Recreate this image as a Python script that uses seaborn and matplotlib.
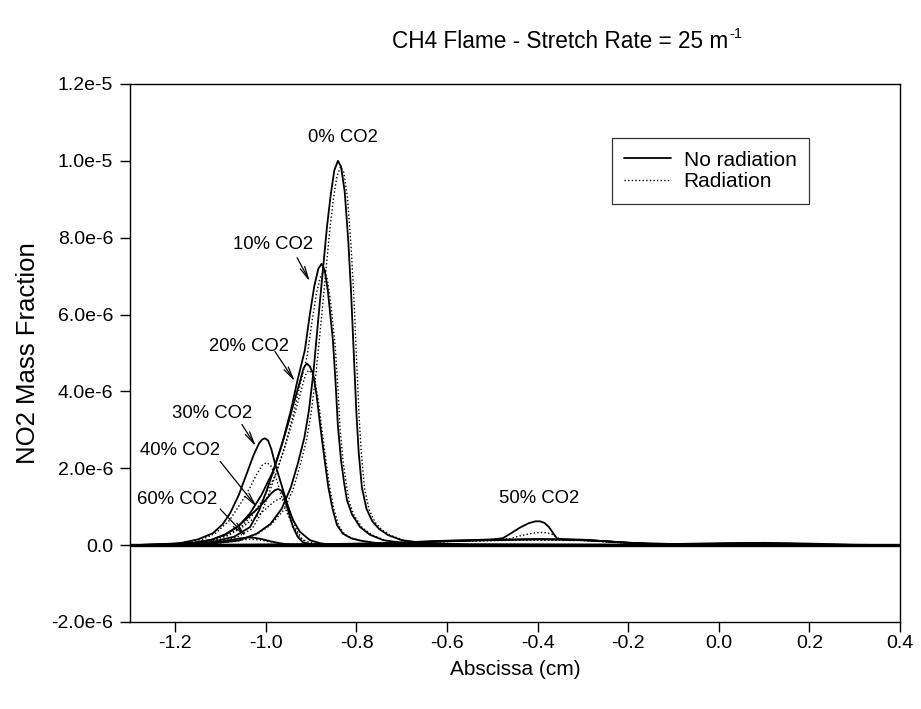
import numpy as np
import pandas as pd
import matplotlib
matplotlib.use("Agg")
import matplotlib.pyplot as plt
from matplotlib.lines import Line2D
import seaborn as sns

# ---------------- data (y in units of 1e-6) ----------------
x0 = [-1.30,-1.20,-1.12,-1.06,-1.02,-0.99,-0.965,-0.945,-0.93,-0.915,-0.905,-0.895,-0.885,-0.873,-0.865,-0.857,-0.849,-0.841,-0.834,-0.826,-0.818,-0.812,-0.806,-0.800,-0.795,-0.788,-0.778,-0.765,-0.750,-0.730,-0.700,-0.650,-0.55,0.40]
y0 = [0,0.01,0.04,0.12,0.30,0.55,0.95,1.5,2.1,2.8,3.5,4.5,5.8,7.3,8.3,9.1,9.75,10.0,9.85,9.2,7.9,6.6,5.0,3.4,2.4,1.5,0.95,0.62,0.42,0.26,0.13,0.05,0.02,0]
x0r = [-1.30,-1.20,-1.12,-1.06,-1.02,-0.99,-0.96,-0.94,-0.925,-0.91,-0.90,-0.89,-0.879,-0.867,-0.859,-0.851,-0.843,-0.835,-0.828,-0.820,-0.812,-0.806,-0.800,-0.794,-0.789,-0.782,-0.772,-0.759,-0.744,-0.724,-0.694,-0.644,-0.55,0.40]
y0r = [0,0.01,0.04,0.11,0.28,0.52,0.92,1.45,2.05,2.75,3.45,4.4,5.7,7.2,8.2,9.0,9.6,9.85,9.7,9.05,7.8,6.5,4.9,3.3,2.35,1.45,0.92,0.6,0.4,0.25,0.12,0.05,0.02,0]

x10 = [-1.30,-1.20,-1.12,-1.07,-1.035,-1.015,-0.998,-0.98,-0.962,-0.945,-0.93,-0.914,-0.903,-0.893,-0.884,-0.877,-0.870,-0.863,-0.857,-0.852,-0.846,-0.841,-0.834,-0.827,-0.821,-0.81,-0.792,-0.77,-0.741,-0.70,-0.64,-0.55,0.40]
y10 = [0,0.02,0.08,0.22,0.47,0.9,1.43,2.05,2.73,3.5,4.3,5.07,6.0,6.75,7.2,7.32,7.15,6.6,5.9,5.33,4.2,3.1,2.2,1.6,1.17,0.8,0.47,0.27,0.13,0.06,0.03,0.01,0]
x10r = [-1.30,-1.20,-1.12,-1.065,-1.03,-1.01,-0.993,-0.975,-0.957,-0.94,-0.925,-0.909,-0.898,-0.888,-0.879,-0.872,-0.865,-0.858,-0.852,-0.847,-0.841,-0.836,-0.829,-0.822,-0.816,-0.805,-0.787,-0.765,-0.736,-0.695,-0.635,-0.55,0.40]
y10r = [0,0.02,0.07,0.2,0.43,0.84,1.35,1.95,2.62,3.38,4.15,4.92,5.83,6.57,7.0,7.12,6.96,6.42,5.75,5.18,4.08,3.0,2.12,1.55,1.12,0.77,0.45,0.26,0.12,0.06,0.03,0.01,0]

x20 = [-1.30,-1.22,-1.16,-1.12,-1.09,-1.06,-1.035,-1.01,-0.985,-0.965,-0.95,-0.937,-0.925,-0.917,-0.910,-0.903,-0.896,-0.888,-0.881,-0.876,-0.869,-0.862,-0.853,-0.843,-0.83,-0.812,-0.792,-0.76,-0.72,-0.65,0.40]
y20 = [0,0.02,0.06,0.14,0.28,0.5,0.83,1.3,1.9,2.6,3.2,3.75,4.25,4.6,4.73,4.65,4.47,3.9,3.2,2.73,2.1,1.5,0.95,0.52,0.3,0.18,0.12,0.06,0.03,0.01,0]
x20r = [-1.30,-1.22,-1.16,-1.115,-1.085,-1.055,-1.03,-1.005,-0.98,-0.96,-0.945,-0.932,-0.921,-0.913,-0.906,-0.899,-0.892,-0.884,-0.877,-0.872,-0.865,-0.858,-0.849,-0.839,-0.826,-0.808,-0.788,-0.756,-0.716,-0.645,0.40]
y20r = [0,0.02,0.05,0.13,0.26,0.47,0.78,1.22,1.8,2.48,3.07,3.6,4.08,4.42,4.55,4.48,4.3,3.75,3.08,2.62,2.0,1.43,0.9,0.5,0.28,0.17,0.11,0.06,0.03,0.01,0]

x30 = [-1.30,-1.24,-1.19,-1.15,-1.117,-1.095,-1.079,-1.06,-1.042,-1.027,-1.015,-1.008,-1.002,-0.995,-0.988,-0.980,-0.971,-0.962,-0.951,-0.94,-0.925,-0.903,-0.88,-0.86,-0.80,0.40]
y30 = [0,0.02,0.05,0.15,0.31,0.55,0.83,1.3,1.87,2.35,2.65,2.75,2.78,2.72,2.5,2.13,1.78,1.43,1.0,0.65,0.35,0.13,0.05,0.02,0.01,0]
x30r = [-1.30,-1.24,-1.19,-1.14,-1.11,-1.08,-1.055,-1.035,-1.02,-1.008,-0.998,-0.988,-0.976,-0.965,-0.953,-0.94,-0.925,-0.91,-0.88,-0.85,-0.80,0.40]
y30r = [0,0.02,0.05,0.15,0.32,0.65,1.1,1.5,1.85,2.08,2.15,2.05,1.69,1.25,0.83,0.5,0.2,0.09,0.03,0.01,0.005,0]

x40 = [-1.30,-1.22,-1.16,-1.12,-1.09,-1.06,-1.04,-1.017,-1.0,-0.988,-0.98,-0.973,-0.966,-0.96,-0.953,-0.946,-0.94,-0.93,-0.918,-0.90,-0.87,-0.80,-0.70,-0.60,-0.50,-0.40,-0.30,-0.22,-0.15,-0.05,0.05,0.15,0.25,0.40]
y40 = [0,0.02,0.06,0.14,0.27,0.5,0.72,0.96,1.18,1.35,1.43,1.46,1.42,1.28,0.99,0.7,0.47,0.22,0.07,0.02,0.01,0.02,0.06,0.10,0.13,0.15,0.14,0.08,0.03,0.02,0.05,0.04,0.01,0]
x40r = [-1.30,-1.22,-1.16,-1.12,-1.085,-1.055,-1.035,-1.012,-0.995,-0.982,-0.972,-0.965,-0.958,-0.952,-0.945,-0.938,-0.932,-0.922,-0.91,-0.89,-0.86,-0.80,-0.70,-0.60,-0.50,-0.40,-0.30,-0.22,-0.15,-0.05,0.05,0.15,0.25,0.40]
y40r = [0,0.02,0.05,0.12,0.24,0.44,0.62,0.82,1.0,1.13,1.2,1.22,1.18,1.05,0.82,0.58,0.39,0.18,0.06,0.02,0.01,0.02,0.05,0.09,0.12,0.13,0.12,0.07,0.03,0.02,0.04,0.03,0.01,0]

x50 = [-1.30,-1.10,-0.95,-0.85,-0.75,-0.68,-0.62,-0.55,-0.50,-0.477,-0.46,-0.44,-0.42,-0.405,-0.395,-0.385,-0.375,-0.365,-0.357,-0.34,-0.30,-0.25,-0.20,-0.15,-0.10,0.0,0.1,0.2,0.3,0.40]
y50 = [0,0.01,0.02,0.03,0.05,0.08,0.11,0.13,0.15,0.18,0.3,0.45,0.57,0.62,0.62,0.58,0.47,0.3,0.17,0.15,0.13,0.1,0.06,0.03,0.02,0.02,0.01,0.005,0.0,0]
x50r = [-1.30,-1.10,-0.95,-0.85,-0.75,-0.68,-0.62,-0.55,-0.50,-0.46,-0.44,-0.42,-0.405,-0.39,-0.378,-0.368,-0.36,-0.352,-0.34,-0.30,-0.25,-0.20,-0.15,-0.10,0.0,0.1,0.2,0.3,0.40]
y50r = [0,0.01,0.02,0.03,0.05,0.08,0.1,0.12,0.14,0.17,0.24,0.29,0.32,0.33,0.32,0.28,0.22,0.16,0.14,0.12,0.1,0.06,0.03,0.02,0.02,0.01,0.005,0.0,0]

x60 = [-1.30,-1.20,-1.14,-1.10,-1.075,-1.055,-1.04,-1.025,-1.01,-0.99,-0.97,-0.95,-0.90,-0.80,-0.70,-0.60,-0.50,-0.40,-0.30,-0.20,-0.10,0.0,0.10,0.20,0.30,0.40]
y60 = [0,0.01,0.04,0.09,0.14,0.18,0.2,0.19,0.16,0.1,0.05,0.02,0.01,0.02,0.06,0.11,0.14,0.16,0.14,0.06,0.03,0.05,0.06,0.04,0.01,0]
x60r = [-1.30,-1.20,-1.14,-1.10,-1.07,-1.05,-1.035,-1.02,-1.005,-0.985,-0.965,-0.945,-0.90,-0.80,-0.70,-0.60,-0.50,-0.40,-0.30,-0.20,-0.10,0.0,0.10,0.20,0.30,0.40]
y60r = [0,0.01,0.03,0.07,0.11,0.14,0.15,0.14,0.12,0.08,0.04,0.02,0.01,0.02,0.05,0.1,0.12,0.14,0.12,0.05,0.03,0.04,0.05,0.03,0.01,0]

curves = {
    ("0%", "No radiation"): (x0, y0), ("0%", "Radiation"): (x0r, y0r),
    ("10%", "No radiation"): (x10, y10), ("10%", "Radiation"): (x10r, y10r),
    ("20%", "No radiation"): (x20, y20), ("20%", "Radiation"): (x20r, y20r),
    ("30%", "No radiation"): (x30, y30), ("30%", "Radiation"): (x30r, y30r),
    ("40%", "No radiation"): (x40, y40), ("40%", "Radiation"): (x40r, y40r),
    ("50%", "No radiation"): (x50, y50), ("50%", "Radiation"): (x50r, y50r),
    ("60%", "No radiation"): (x60, y60), ("60%", "Radiation"): (x60r, y60r),
}

# annotation labels: (text, text position, arrow tail, arrow tip)
labels = ["0% CO2", "10% CO2", "20% CO2", "30% CO2", "40% CO2", "60% CO2", "50% CO2"]
label_xy = [(-0.830, 10.62), (-0.984, 7.82), (-1.037, 5.17), (-1.119, 3.43),
            (-1.190, 2.47), (-1.196, 1.19), (-0.397, 1.22)]
arrow_tail = [None, (-0.931, 7.48), (-0.980, 5.04), (-1.053, 3.14),
              (-1.101, 2.18), (-1.101, 0.94), None]
arrow_tip = [None, (-0.903, 6.86), (-0.936, 4.26), (-1.022, 2.57),
             (-1.020, 0.99), (-1.044, 0.23), None]

xticks = [-1.2, -1.0, -0.8, -0.6, -0.4, -0.2, 0.0, 0.2, 0.4]
yticks = [-2e-6, 0, 2e-6, 4e-6, 6e-6, 8e-6, 1e-5, 1.2e-5]
ytick_labels = ["-2.0e-6", "0.0", "2.0e-6", "4.0e-6", "6.0e-6", "8.0e-6", "1.0e-5", "1.2e-5"]

SCALE = 1e-6

rows = []
for (lvl, kind), (xs, ys) in curves.items():
    for xv, yv in zip(xs, ys):
        rows.append({"x": xv, "y": yv * SCALE, "curve": lvl + kind, "kind": kind})
df = pd.DataFrame(rows)

# ---------------- plot ----------------
sns.set_style("ticks")
plt.rcParams["font.family"] = ["Liberation Sans", "DejaVu Sans"]
plt.rcParams["text.color"] = "black"
plt.rcParams["axes.labelcolor"] = "black"

fig = plt.figure(figsize=(9.21, 7.09), dpi=100)
ax = fig.add_axes([130/921, 1-622/709, 770/921, 538/709])

ax.axhline(0, color="black", lw=2.4, zorder=1)
sns.lineplot(data=df[df.kind == "No radiation"], x="x", y="y", units="curve",
             estimator=None, sort=False, color="black", lw=1.3, ax=ax, legend=False)
sns.lineplot(data=df[df.kind == "Radiation"], x="x", y="y", units="curve",
             estimator=None, sort=False, color="black", lw=1.0, ax=ax, legend=False,
             linestyle=(0, (1, 1.6)))

for i, t in enumerate(labels):
    tx, ty = label_xy[i]
    ax.text(tx, ty * SCALE, t, ha="center", va="center", fontsize=13.3, color="black")
    if arrow_tail[i] is not None:
        ax.annotate("", xy=(arrow_tip[i][0], arrow_tip[i][1] * SCALE),
                    xytext=(arrow_tail[i][0], arrow_tail[i][1] * SCALE),
                    arrowprops=dict(arrowstyle="->,head_length=0.9,head_width=0.18",
                                    color="black", lw=0.9, shrinkA=0, shrinkB=0))

ax.set_xlim(-1.3, 0.4)
ax.set_ylim(-2e-6, 1.2e-5)
ax.set_xticks(xticks)
ax.set_xticklabels([f"{v:.1f}" for v in xticks])
ax.set_yticks(yticks)
ax.set_yticklabels(ytick_labels)
ax.tick_params(axis="both", direction="out", length=7, width=1, labelsize=14,
               colors="black", labelcolor="black", top=False, right=False, pad=5)
ax.tick_params(axis="x", pad=2)
for s in ax.spines.values():
    s.set_visible(True)
    s.set_color("black")
    s.set_linewidth(1.0)

ax.set_xlabel("Abscissa (cm)", fontsize=15, labelpad=6, color="black")
ax.set_ylabel("NO2 Mass Fraction", fontsize=18.5, labelpad=8, color="black")

# title with a small superscript "-1"
title_main = fig.text(392/921, 1-42/709, "CH4 Flame - Stretch Rate = 25 m", ha="left",
                      va="center", fontsize=16.3, color="black")
renderer = fig.canvas.get_renderer()
bb = title_main.get_window_extent(renderer=renderer)
fig.text((bb.x1 + 1) / 921, 1-34/709, "-1", ha="left", va="center", fontsize=10.5,
         color="black")

handles = [Line2D([], [], color="black", lw=1.3),
           Line2D([], [], color="black", lw=1.0, linestyle=(0, (1, 1.6)))]
leg = ax.legend(handles, ["No radiation", "Radiation"], loc="upper right",
                bbox_to_anchor=(0.8818, 0.8996), borderaxespad=0, fontsize=15,
                frameon=True, fancybox=False, edgecolor="black", handlelength=2.26,
                handletextpad=0.6, borderpad=0.6, labelspacing=0.12)
leg.get_frame().set_linewidth(0.9)
for t in leg.get_texts():
    t.set_color("black")

fig.savefig("out.png", dpi=100)
